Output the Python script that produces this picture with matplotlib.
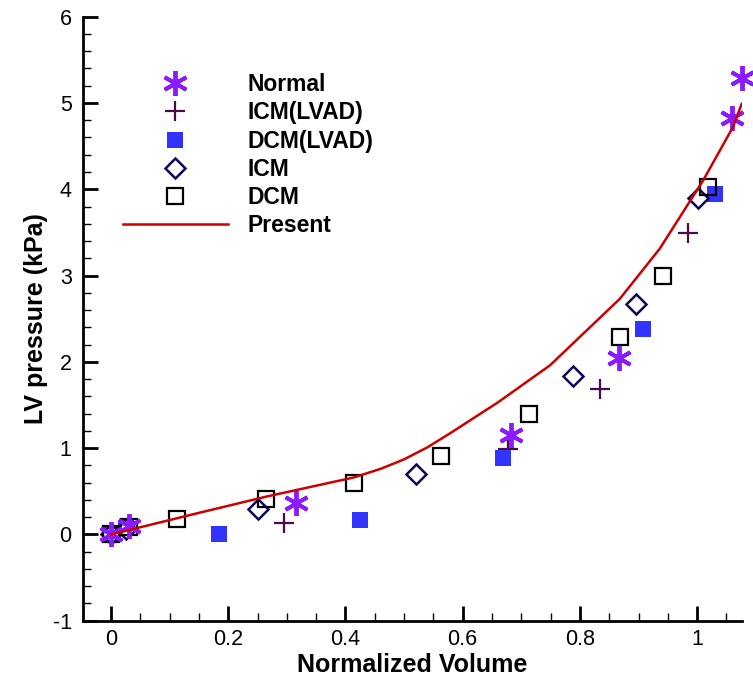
"""LV pressure vs normalized volume: present model against clinical groups."""
import matplotlib
matplotlib.use("Agg")
import matplotlib.pyplot as plt
from matplotlib.ticker import MultipleLocator, FormatStrFormatter

plt.rcParams["font.family"] = ["Liberation Sans", "DejaVu Sans"]
plt.rcParams["axes.unicode_minus"] = False

# ---- data ---------------------------------------------------------------
normal_x = [0.0, 0.030, 0.315, 0.683, 0.867, 1.060, 1.077]
normal_y = [0.0, 0.10, 0.37, 1.15, 2.05, 4.83, 5.29]

icm_lvad_x = [0.0, 0.025, 0.295, 0.677, 0.834, 0.984]
icm_lvad_y = [0.0, 0.08, 0.13, 0.99, 1.69, 3.49]

dcm_lvad_x = [0.0, 0.025, 0.185, 0.424, 0.668, 0.908, 1.030]
dcm_lvad_y = [0.0, 0.07, 0.01, 0.17, 0.89, 2.38, 3.94]

icm_x = [0.0, 0.025, 0.251, 0.520, 0.789, 0.895, 1.002]
icm_y = [0.0, 0.06, 0.30, 0.70, 1.84, 2.67, 3.90]

dcm_x = [0.0, 0.030, 0.113, 0.264, 0.414, 0.563, 0.713, 0.868, 0.942, 1.019]
dcm_y = [0.0, 0.09, 0.18, 0.41, 0.60, 0.91, 1.40, 2.29, 3.00, 4.03]

present_x = [0.0, 0.150, 0.266, 0.414, 0.460, 0.500, 0.540, 0.578, 0.660, 0.749,
             0.868, 0.936, 1.010, 1.061, 1.076]
present_y = [0.0, 0.25, 0.44, 0.66, 0.76, 0.87, 1.01, 1.17, 1.53, 1.96,
             2.73, 3.31, 4.10, 4.72, 4.99]

# ---- plot ----------------------------------------------------------------
fig = plt.figure(figsize=(7.53, 6.81), dpi=100)
ax = fig.add_axes([0.110, 0.0885, 0.875, 0.887])

ax.plot(icm_lvad_x, icm_lvad_y, ls="none", marker="+", ms=15, mew=1.6,
        color="#4a0a4a", label="ICM(LVAD)", clip_on=False, zorder=3)
ax.plot(dcm_lvad_x, dcm_lvad_y, ls="none", marker="s", ms=11, mew=0,
        color="#3333ff", label="DCM(LVAD)", clip_on=False, zorder=3)
ax.plot(icm_x, icm_y, ls="none", marker="D", ms=10, mew=1.8, mfc="white",
        mec="#0a0a5a", label="ICM", clip_on=False, zorder=4)
ax.plot(dcm_x, dcm_y, ls="none", marker="s", ms=12, mew=1.6, mfc="none",
        mec="black", label="DCM", clip_on=False, zorder=4)
ax.plot(normal_x, normal_y, ls="none", marker=(6, 2, 0), ms=18, mew=2.8,
        color="#8c1aff", label="Normal", clip_on=False, zorder=5)
ax.plot(present_x, present_y, color="#cc0000", lw=1.8, label="Present", zorder=6)

ax.set_xlim(-0.048, 1.076)
ax.set_ylim(-1, 6)
for side in ("top", "right"):
    ax.spines[side].set_visible(False)
for side in ("left", "bottom"):
    ax.spines[side].set_linewidth(2)

ax.xaxis.set_major_locator(MultipleLocator(0.2))
ax.xaxis.set_minor_locator(MultipleLocator(0.05))
ax.yaxis.set_major_locator(MultipleLocator(1))
ax.yaxis.set_minor_locator(MultipleLocator(0.2))
ax.xaxis.set_major_formatter(FormatStrFormatter("%g"))
ax.yaxis.set_major_formatter(FormatStrFormatter("%g"))
ax.tick_params(which="major", direction="in", length=11, width=2, labelsize=15.5)
ax.tick_params(which="minor", direction="in", length=6, width=1)
ax.tick_params(axis="x", which="major", pad=6)
ax.tick_params(axis="y", which="major", pad=8)

ax.set_xlabel("Normalized Volume", fontsize=18, fontweight="bold", labelpad=2)
ax.set_ylabel("LV pressure (kPa)", fontsize=18, fontweight="bold", labelpad=3)

handles, labels = ax.get_legend_handles_labels()
order = ["Normal", "ICM(LVAD)", "DCM(LVAD)", "ICM", "DCM", "Present"]
hmap = dict(zip(labels, handles))
ax.legend([hmap[k] for k in order], order, loc="upper left",
          bbox_to_anchor=(123 / 753, 1 - 73 / 681), bbox_transform=fig.transFigure,
          frameon=False, borderpad=0, borderaxespad=0, numpoints=1,
          handlelength=4.58, handletextpad=0.87, labelspacing=0.23,
          prop={"weight": "bold", "size": 16.5})

fig.savefig("out.png", dpi=100)
